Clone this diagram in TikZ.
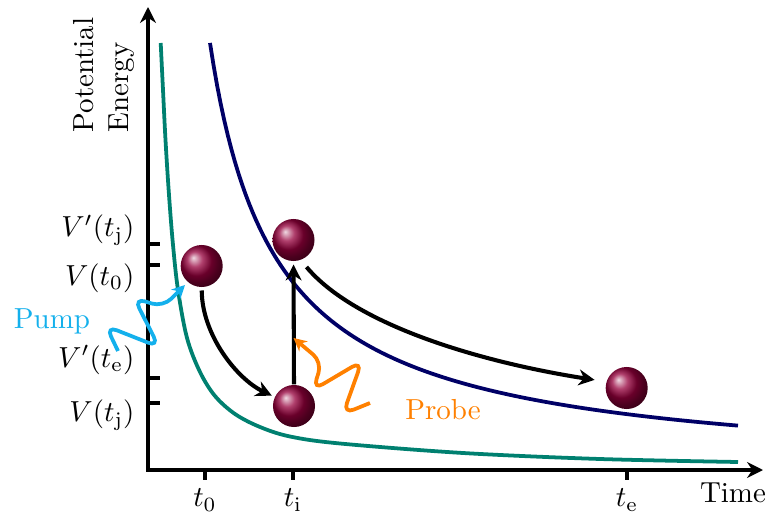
\documentclass[tikz,border=0pt]{standalone}
\usepackage{amsmath}
\usepackage{xcolor}
\usepackage{tikz}
\usetikzlibrary{arrows.meta,calc,positioning}
\definecolor{potTeal}{RGB}{0,128,112}
\definecolor{potNavy}{RGB}{0,0,102}
\definecolor{pumpCyan}{RGB}{20,176,236}
\definecolor{probeOrange}{RGB}{255,128,0}
\definecolor{ballWine}{RGB}{150,0,60}
\tikzset{
  axisline/.style={{Stealth[length=5.5pt,width=5.5pt]}-{Stealth[length=5.5pt,width=5.5pt]},line width=1.3pt,line join=miter},
  tickline/.style={line width=1.3pt},
  lowpot/.style={draw=potTeal,line width=1.3pt},
  highpot/.style={draw=potNavy,line width=1.3pt},
  ball/.style={circle,minimum size=14.5pt,inner sep=0pt,shading=ball,ball color=ballWine},
  hop/.style={-{Stealth[length=5.5pt,width=5.5pt]},line width=1.4pt},
  pumpwave/.style={-{Stealth[length=4.5pt,width=4.5pt]},draw=pumpCyan,line width=1.3pt,rounded corners=4pt},
  probewave/.style={-{Stealth[length=4.5pt,width=4.5pt]},draw=probeOrange,line width=1.3pt,rounded corners=4pt},
  levellabel/.style={anchor=east,inner sep=0pt},
}

\begin{document}
\begin{tikzpicture}[x=0.345pt,y=-0.345pt]
  \useasboundingbox (0,0) rectangle (768,515);

  % Axes with their ticks.
  \coordinate (orig) at (148,470);
  \coordinate (ytip) at (148,7);
  \coordinate (xtip) at (763,470);
  \draw[axisline] (ytip) -- (orig) -- (xtip);
  \foreach \y in {244,265,378,403}
    \draw[tickline] (148,\y) -- (160,\y);
  \foreach \x in {205,293,627}
    \draw[tickline] (\x,470) -- (\x,480);

  % Axis titles.
  \node[rotate=90,align=left] (ylbl) at (104,75) {Potential\\Energy};
  \node (xlbl) at (733,493) {Time};

  % Tick labels.
  \node[levellabel] (vpj) at (135,230) {$V'(t_{\mathrm{j}})$};
  \node[levellabel] (v0) at (135,278) {$V(t_0)$};
  \node[levellabel] (vpe) at (135,360) {$V'(t_{\mathrm{e}})$};
  \node[levellabel] (vj) at (135,415) {$V(t_{\mathrm{j}})$};
  \node (t0) at (205,500) {$t_0$};
  \node (ti) at (293,500) {$t_{\mathrm{i}}$};
  \node (te) at (627,500) {$t_{\mathrm{e}}$};

  % The two potential curves.
  \draw[lowpot] plot[smooth,tension=0.55] coordinates {
    (160.7,43) (163,90) (165.5,140) (169,195) (173,245) (178,290)
    (187,338) (200,372) (215,396) (235,414) (260,427) (290,436.5)
    (340,443.5) (463,453) (600,459) (738,462)};
  \draw[highpot] plot[domain=210:738,samples=150]
    (\x,{480-exp(9.818-0.913*ln(\x-150))});

  % Wave packets.
  \node[ball] (b0) at (201.7,266) {};
  \node[ball] (b1) at (294,406) {};
  \node[ball] (b2) at (293.5,240) {};
  \node[ball] (b3) at (626.7,388) {};

  % Motion of the packet.
  \draw[hop,shorten <=1pt,shorten >=1pt]
    (b0.south) .. controls (202,335) and (237,379) .. (b1.155);
  \draw[hop,shorten >=1pt] (b1.north) -- (b2.south);
  \draw[hop,shorten <=3pt,shorten >=4pt]
    (b2.-70) .. controls (355,325) and (480,362) .. (b3.163);

  % Pump and probe pulses.
  \coordinate (pumptip) at (185,285);
  \coordinate (probetip) at (293.5,338);
  \draw[pumpwave] (118,351) -- (106,326) -- (159,347) -- (134,298)
    -- (163,307) -- (pumptip);
  \draw[probewave] (370,403) -- (343,414) -- (362,361) -- (313,390)
    -- (322,362) -- (probetip);
  \node[text=pumpCyan] (pumplbl) at (52,321) {Pump};
  \node[text=probeOrange] (probelbl) at (443,410) {Probe};
\end{tikzpicture}
\end{document}
